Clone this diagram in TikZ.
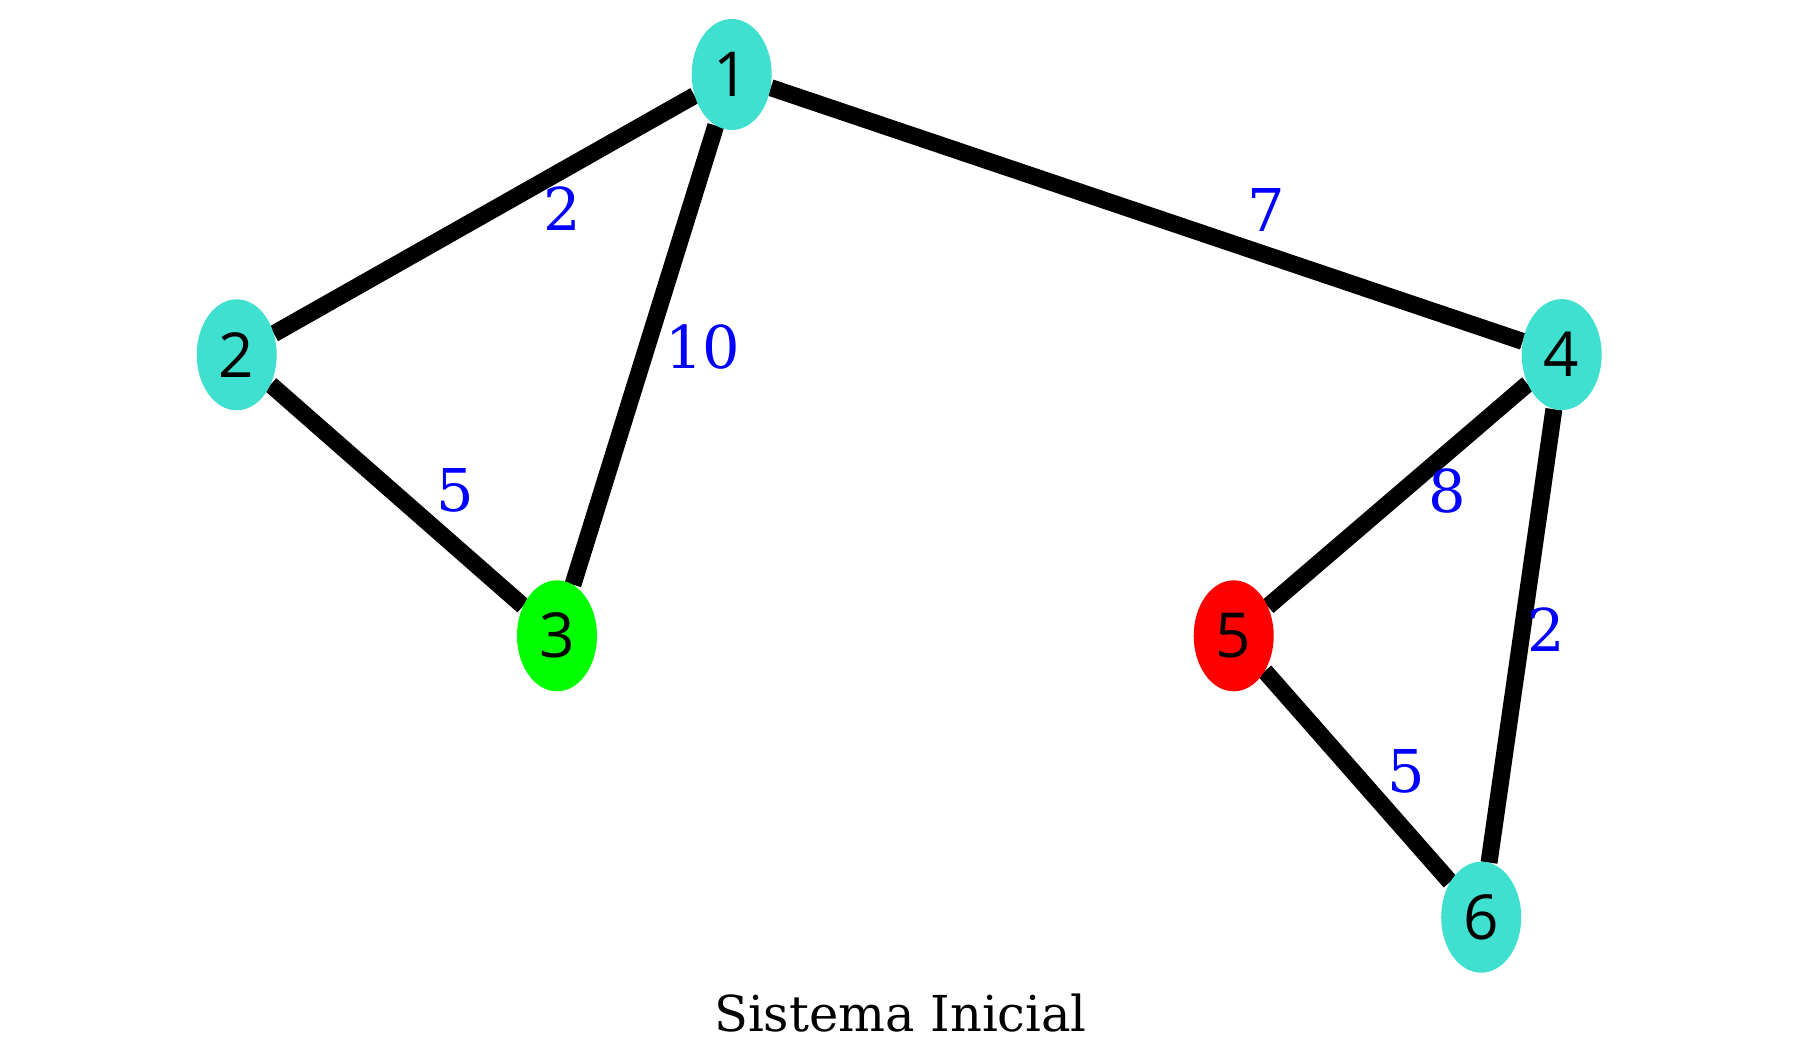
\documentclass[tikz,border=0pt]{standalone}
\usepackage{fontspec}
\setmainfont{DejaVu Serif}
\newfontfamily\vertexfont{Open Sans}
\usetikzlibrary{shapes.geometric,backgrounds}

\definecolor{turq}{RGB}{64,224,208}
\definecolor{limeg}{RGB}{0,255,0}
\definecolor{redv}{RGB}{255,0,0}
\definecolor{wblue}{RGB}{0,0,255}

\tikzset{
  vertex/.style={ellipse, minimum width=80pt, minimum height=111pt, inner sep=0pt,
                 font=\vertexfont\fontsize{62}{62}\selectfont, text=black},
  link/.style={line width=17pt, black},
  weight/.style={inner sep=0pt, text=wblue, font=\fontsize{59}{59}\selectfont},
  caption/.style={inner sep=0pt, anchor=base, font=\fontsize{49.5}{49.5}\selectfont}
}

\begin{document}
\begin{tikzpicture}[x=1pt,y=-1pt]
  \path[use as bounding box] (0,0) rectangle (1798,1056);

  % vertices
  \node[vertex, fill=turq]  (n1) at (731.7,74.5)  {1};
  \node[vertex, fill=turq]  (n2) at (236.7,354.8) {2};
  \node[vertex, fill=limeg] (n3) at (557.0,635.8) {3};
  \node[vertex, fill=turq]  (n4) at (1561.7,354.6) {4};
  \node[vertex, fill=redv]  (n5) at (1233.7,635.8) {5};
  \node[vertex, fill=turq]  (n6) at (1481.2,917.2) {6};

  % edges, kept under the vertices
  \begin{pgfonlayer}{background}
    \fill[white] (0,0) rectangle (1798,1056);
    \draw[link] (n1) -- (n2);
    \draw[link] (n1) -- (n3);
    \draw[link] (n1) -- (n4);
    \draw[link] (n2) -- (n3);
    \draw[link] (n4) -- (n5);
    \draw[link] (n4) -- (n6);
    \draw[link] (n5) -- (n6);
  \end{pgfonlayer}

  % edge weights
  \node[weight] (w12) at (562.5,208.3) {2};
  \node[weight] (w13) at (703.0,347.0) {10};
  \node[weight] (w14) at (1266.0,210.0) {7};
  \node[weight] (w23) at (455.2,490.8) {5};
  \node[weight] (w45) at (1447.0,490.8) {8};
  \node[weight] (w46) at (1546.7,629.2) {2};
  \node[weight] (w56) at (1405.9,771.7) {5};

  % title
  \node[caption] (title) at (900.5,1031.7) {Sistema Inicial};
\end{tikzpicture}
\end{document}
